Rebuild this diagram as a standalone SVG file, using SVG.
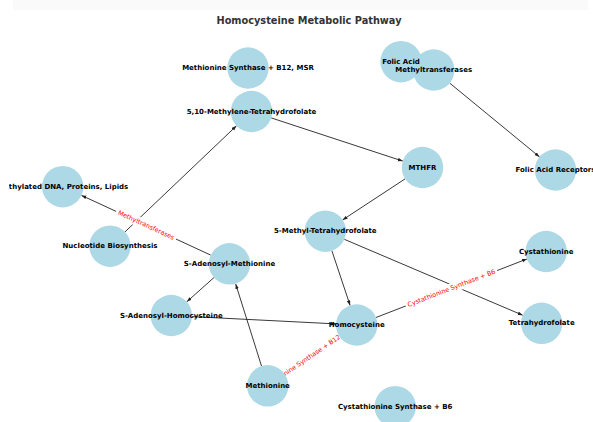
<svg xmlns="http://www.w3.org/2000/svg" width="593" height="422" viewBox="0 0 593 422">
<style>
.node circle{fill:#ADD8E6;}
.nl{font-family:"DejaVu Sans","Liberation Sans",sans-serif;font-size:7px;font-weight:bold;fill:#000;text-anchor:middle;dominant-baseline:central;}
.edge{stroke:#222;stroke-width:0.9;fill:none;marker-end:url(#ah);}
.el rect{fill:#fff;}
.el text{font-family:"DejaVu Sans","Liberation Sans",sans-serif;font-size:6.4px;fill:#ff0000;text-anchor:middle;dominant-baseline:central;}
.title{font-family:"DejaVu Sans","Liberation Sans",sans-serif;font-size:9.75px;font-weight:bold;fill:#333;text-anchor:middle;dominant-baseline:central;}
</style>
<defs>
<marker id="ah" markerUnits="userSpaceOnUse" markerWidth="6" markerHeight="4" refX="5" refY="1.8" orient="auto">
<path d="M0,0 L5,1.8 L0,3.6 z" fill="#222"/>
</marker>
<clipPath id="plotclip"><rect x="9" y="0" width="584" height="422"/></clipPath>
</defs>
<rect x="0" y="0" width="593" height="422" fill="#fff"/>
<rect x="13" y="0" width="575" height="10" fill="#fafafa"/>
<text class="title" x="309" y="20">Homocysteine Metabolic Pathway</text>

<g id="connectors">
<line class="edge" x1="449.7" y1="83.1" x2="539.5" y2="156.9"/>
<line class="edge" x1="271.2" y1="117.9" x2="402.8" y2="161.1"/>
<line class="edge" x1="405.2" y1="178.8" x2="342.6" y2="219.9"/>
<line class="edge" x1="331.9" y1="250.8" x2="350.1" y2="305.4"/>
<line class="edge" x1="344.3" y1="239.3" x2="522.7" y2="315.2"/>
<line class="edge" x1="376.0" y1="317.5" x2="526.9" y2="259.0"/>
<line class="edge" x1="339.6" y1="336.7" x2="284.8" y2="374.1"/>
<line class="edge" x1="210.7" y1="255.1" x2="81.5" y2="195.4"/>
<line class="edge" x1="125.0" y1="231.9" x2="236.5" y2="125.8"/>
<line class="edge" x1="214.0" y1="277.5" x2="186.8" y2="301.8"/>
<line class="edge" x1="261.5" y1="366.0" x2="235.7" y2="284.0"/>
<line class="edge" x1="192.0" y1="316.6" x2="336.0" y2="323.9"/>
<g class="el" transform="translate(146.1,225.2) rotate(24.8)"><rect x="-33" y="-5" width="66" height="10" rx="2"/><text x="0" y="0">Methyltransferases</text></g>
<g class="el" transform="translate(451.45,288.25) rotate(-21.2)"><rect x="-49" y="-5" width="98" height="10" rx="2"/><text x="0" y="0">Cystathionine Synthase + B6</text></g>
<g class="el" transform="translate(303,361.5) rotate(-34.3)"><rect x="-46.5" y="-5" width="93" height="10" rx="2"/><text x="0" y="0">Methionine Synthase + B12</text></g>
</g>

<g id="nodes">
<g id="node-ms" class="node"><circle cx="248" cy="68" r="20.7"/></g>
<g id="node-mthf510" class="node"><circle cx="251.5" cy="111.5" r="20.7"/></g>
<g id="node-folic" class="node"><circle cx="401" cy="61.7" r="20.7"/></g>
<g id="node-mt" class="node"><circle cx="433.7" cy="70" r="20.7"/></g>
<g id="node-mthfr" class="node"><circle cx="422.5" cy="167.5" r="20.7"/></g>
<g id="node-far" class="node"><circle cx="555.5" cy="170" r="20.7"/></g>
<g id="node-mdna" class="node"><circle cx="62.7" cy="186.7" r="20.7"/></g>
<g id="node-nb" class="node"><circle cx="110" cy="246.2" r="20.7"/></g>
<g id="node-sam" class="node"><circle cx="229.5" cy="263.8" r="20.7"/></g>
<g id="node-mthf5" class="node"><circle cx="325.3" cy="231.2" r="20.7"/></g>
<g id="node-cys" class="node"><circle cx="546.2" cy="251.5" r="20.7"/></g>
<g id="node-sah" class="node"><circle cx="171.3" cy="315.5" r="20.7"/></g>
<g id="node-hcy" class="node"><circle cx="356.7" cy="325" r="20.7"/></g>
<g id="node-thf" class="node"><circle cx="541.7" cy="323.3" r="20.7"/></g>
<g id="node-met" class="node"><circle cx="267.7" cy="385.8" r="20.7"/></g>
<g id="node-csb6" class="node"><circle cx="395.2" cy="406.7" r="20.7"/></g>
</g>

<g id="node-labels" clip-path="url(#plotclip)">
<text id="label-ms" class="nl" x="248" y="68">Methionine Synthase + B12, MSR</text>
<text id="label-mthf510" class="nl" x="251.5" y="111.5">5,10-Methylene-Tetrahydrofolate</text>
<text id="label-folic" class="nl" x="401" y="61.7">Folic Acid</text>
<text id="label-mt" class="nl" x="433.7" y="70">Methyltransferases</text>
<text id="label-mthfr" class="nl" x="422.5" y="167.5">MTHFR</text>
<text id="label-far" class="nl" x="555.5" y="170">Folic Acid Receptors</text>
<text id="label-mdna" class="nl" x="62.7" y="186.7">Methylated DNA, Proteins, Lipids</text>
<text id="label-nb" class="nl" x="110" y="246.2">Nucleotide Biosynthesis</text>
<text id="label-sam" class="nl" x="229.5" y="263.8">S-Adenosyl-Methionine</text>
<text id="label-mthf5" class="nl" x="325.3" y="231.2">5-Methyl-Tetrahydrofolate</text>
<text id="label-cys" class="nl" x="546.2" y="251.5">Cystathionine</text>
<text id="label-sah" class="nl" x="171.3" y="315.5">S-Adenosyl-Homocysteine</text>
<text id="label-hcy" class="nl" x="356.7" y="325">Homocysteine</text>
<text id="label-thf" class="nl" x="541.7" y="323.3">Tetrahydrofolate</text>
<text id="label-met" class="nl" x="267.7" y="385.8">Methionine</text>
<text id="label-csb6" class="nl" x="395.2" y="406.7">Cystathionine Synthase + B6</text>
</g>
</svg>
